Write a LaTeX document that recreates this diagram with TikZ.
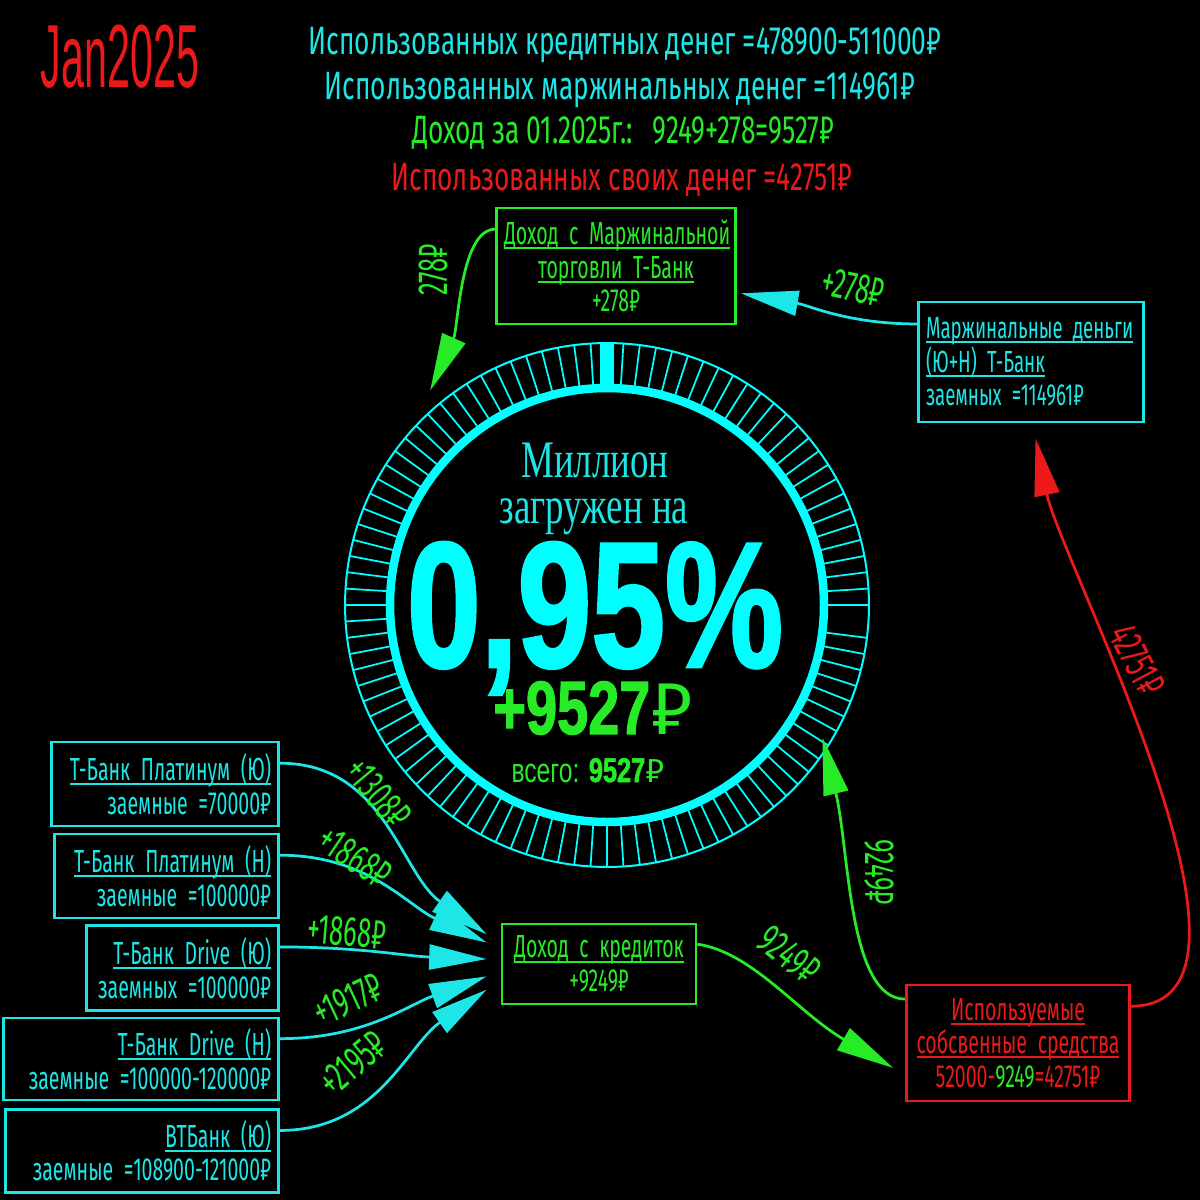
\documentclass[tikz,border=0pt]{standalone}
\usepackage{fontspec}
\setmainfont{Fira Sans}
\newfontfamily\cadfont{Fira Sans}[FakeStretch=0.61]
\newfontfamily\hdrfont{Fira Sans}[FakeStretch=0.665]
\newfontfamily\monthfont{Liberation Sans}[FakeStretch=0.46]
\newfontfamily\narrowserif{Liberation Serif}[FakeStretch=0.7]
\newfontfamily\narrowsans{Liberation Sans}[FakeStretch=0.72]
\newfontfamily\heavyfont{Liberation Sans}[UprightFont=* Bold,FakeStretch=0.74,FakeBold=1.5]
\newfontfamily\rublefont{Fira Sans}
\usepackage{xcolor}
\definecolor{cadcyan}{RGB}{30,230,230}
\definecolor{ringcyan}{RGB}{0,255,255}
\definecolor{cadgreen}{RGB}{40,235,40}
\definecolor{cadred}{RGB}{235,25,25}
\usetikzlibrary{arrows.meta,positioning,calc}
\newcommand{\ul}[1]{\leavevmode\setbox0\hbox{#1}\rlap{\vrule height -1.5pt depth 2.6pt width \wd0}\box0}

\begin{document}
\begin{tikzpicture}[x=0.02cm,y=0.02cm,
  cad/.style={font=\cadfont\fontsize{18.2}{19}\selectfont},
  box/.style={rectangle,draw,line width=0.055cm,inner sep=0.15cm,cad},
  cyanbox/.style={box,draw=cadcyan,text=cadcyan,align=right,anchor=east},
  greenbox/.style={box,draw=cadgreen,text=cadgreen,align=center},
  redbox/.style={box,draw=cadred,text=cadred,align=center},
  hdr/.style={font=\hdrfont\fontsize{22.5}{22.5}\selectfont},
  lab/.style={font=\cadfont\fontsize{24}{24}\selectfont,text=cadgreen,inner sep=0},
  flow/.style={line width=0.055cm,-{Triangle[length=1.15cm,width=0.5cm]}}
]
  \fill[black] (0,0) rectangle (1200,-1200);
  \useasboundingbox (0,0) rectangle (1200,-1200);

  % header
  \node[text=cadred,font=\monthfont\fontsize{51}{51}\selectfont] (month) at (120,-57) {Jan2025};
  \node[hdr,text=cadcyan] (credused) at (625,-45) {Использованных кредитных денег =478900-511000₽};
  \node[hdr,text=cadcyan] (margused) at (620,-90) {Использованных маржинальных денег =114961₽};
  \node[hdr,text=cadgreen] (income) at (623,-133) {Доход за 01.2025г.:\enspace 9249+278=9527₽};
  \node[hdr,text=cadred] (ownused) at (622,-180) {Использованных своих денег =42751₽};

  % million ring
  \node[circle,draw=ringcyan,line width=0.04cm,minimum size=10.48cm,inner sep=0] (ring) at (607,-605) {};
  \draw[ringcyan,line width=0.17cm] (ring.center) circle[radius=217];
  \begin{scope}[shift={(ring.center)},ringcyan,line width=0.035cm]
    \foreach \a in {0,3.6,...,356} \draw (\a:219) -- (\a:262);
    \fill (-7,217) rectangle (7,262);
  \end{scope}
  \node[anchor=base,text=cadcyan,font=\narrowserif\fontsize{30}{30}\selectfont] (mln) at (595,-477) {Миллион};
  \node[anchor=base,text=cadcyan,font=\narrowserif\fontsize{30}{30}\selectfont] (load) at (594,-523) {загружен на};
  \node[anchor=base,text=ringcyan,font=\heavyfont\fontsize{102}{102}\selectfont] (pct) at (595,-667) {0,95\%};
  \node[anchor=base,text=cadgreen,font=\heavyfont\fontsize{43}{43}\selectfont] (gain) at (593,-734) {+9527{\rublefont ₽}};
  \node[anchor=base,text=cadgreen,font=\heavyfont\fontsize{19.5}{19.5}\selectfont] (total) at (588,-782) {{\narrowsans\mdseries всего:} 9527{\rublefont ₽}};

  % top and right boxes
  \node[greenbox,text width=4.48cm,minimum height=2.32cm] (marginc) at (616,-266)
    {\ul{Доход с Маржинальной}\\\ul{торговли Т-Банк}\\+278₽};
  \node[box,draw=cadcyan,text=cadcyan,align=left,text width=4.2cm,minimum height=2.4cm,
        font=\cadfont\fontsize{17.4}{19}\selectfont] (margmoney) at (1031,-362)
    {\ul{Маржинальные деньги}\\\ul{(Ю+Н) Т-Банк}\\заемных =114961₽};

  % cards
  \node[cyanbox,text width=4.24cm,minimum height=1.68cm] (tpu) at (280,-784) {\ul{Т-Банк Платинум (Ю)}\\заемные =70000₽};
  \node[cyanbox,text width=4.18cm,minimum height=1.68cm] (tpn) at (280,-876) {\ul{Т-Банк Платинум (Н)}\\заемные =100000₽};
  \node[cyanbox,text width=3.54cm,minimum height=1.70cm] (tdu) at (280,-968) {\ul{Т-Банк Drive (Ю)}\\заемных =100000₽};
  \node[cyanbox,text width=5.20cm,minimum height=1.64cm] (tdn) at (280,-1059) {\ul{Т-Банк Drive (Н)}\\заемные =100000-120000₽};
  \node[cyanbox,text width=5.16cm,minimum height=1.66cm] (vtb) at (280,-1151) {\ul{ВТБанк (Ю)}\\заемные =108900-121000₽};

  \node[greenbox,text width=3.58cm,minimum height=1.6cm] (credit) at (599,-964) {\ul{Доход с кредиток}\\+9249₽};
  \node[redbox,text width=4.16cm,minimum height=2.32cm] (own) at (1018,-1043)
    {\ul{Используемые}\\\ul{собсвенные средства}\\52000-{\color{cadgreen}9249}=42751₽};

  % card flows
  \draw[flow,cadcyan] ($(tpu.north east)!.26!(tpu.south east)$) to[out=0,in=145] ($(credit.north west)!.14!(credit.south west)+(-14,0)$);
  \draw[flow,cadcyan] ($(tpn.north east)!.26!(tpn.south east)$) to[out=0,in=155] ($(credit.north west)!.24!(credit.south west)+(-14,0)$);
  \draw[flow,cadcyan] ($(tdu.north east)!.26!(tdu.south east)$) to[out=0,in=178] ($(credit.north west)!.44!(credit.south west)+(-14,0)$);
  \draw[flow,cadcyan] ($(tdn.north east)!.26!(tdn.south east)$) to[out=0,in=-160] ($(credit.north west)!.65!(credit.south west)+(-14,0)$);
  \draw[flow,cadcyan] ($(vtb.north east)!.26!(vtb.south east)$) to[out=0,in=-145] ($(credit.north west)!.81!(credit.south west)+(-14,0)$);
  \node[lab,rotate=-50] at (378,-793) {+1308₽};
  \node[lab,rotate=-34] at (355,-857) {+1868₽};
  \node[lab,rotate=-5] at (347,-932) {+1868₽};
  \node[lab,rotate=25] at (348,-1000) {+1917₽};
  \node[lab,rotate=40] at (353,-1064) {+2195₽};

  % own money loop
  \draw[flow,cadgreen] ($(credit.north east)!.26!(credit.south east)$) .. controls +(55,-8) and +(-95,55) .. ($(own.north west)!.71!(own.south west)+(-12,0)$);
  \node[lab,rotate=-38] at (789,-955) {9249₽};
  \draw[flow,cadgreen] ($(own.north west)!.13!(own.south west)$) .. controls +(-57,0) and +(27,-112) .. ($(ring.center)+(-31.6:253)$);
  \node[lab,rotate=-90] at (879,-872) {9249₽};
  \draw[flow,cadred] ($(own.north east)!.19!(own.south east)$) .. controls +(165,0) and +(25,-123) .. ($(margmoney.south west)!.52!(margmoney.south east)+(0,-15)$);
  \node[lab,text=cadred,rotate=-62] at (1137,-660) {42751₽};
  \draw[flow,cadcyan] ($(margmoney.north west)!.19!(margmoney.south west)$) to[out=180,in=-10] ($(marginc.north east)!.73!(marginc.south east)+(4,0)$);
  \node[lab,rotate=-12] at (853,-287) {+278₽};
  \draw[flow,cadgreen] ($(marginc.north west)!.19!(marginc.south west)$) .. controls +(-35,0) and +(28,62) .. ($(ring.center)+(129.5:278)$);
  \node[lab,rotate=90] at (433,-270) {278₽};
\end{tikzpicture}
\end{document}
